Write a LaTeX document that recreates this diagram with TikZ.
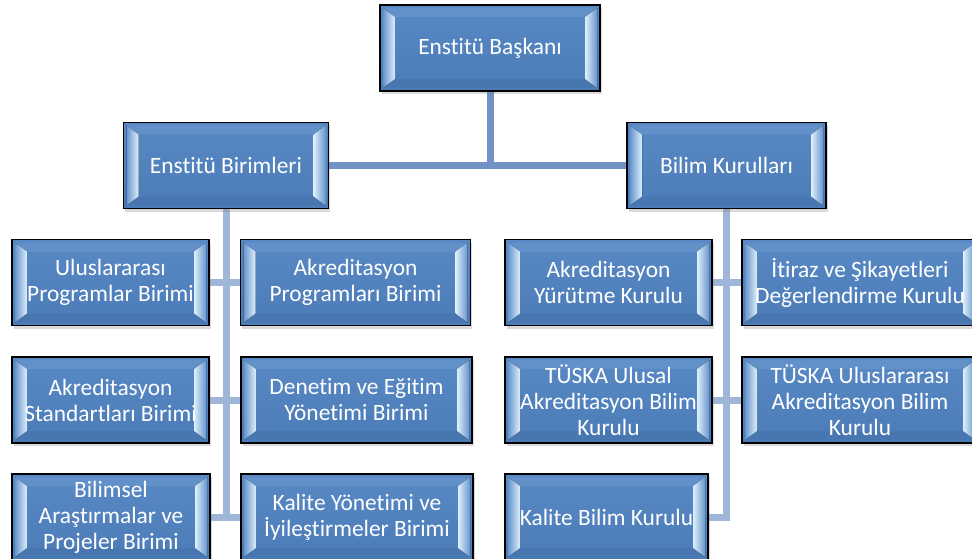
\documentclass[tikz,border=0pt]{standalone}
\usepackage{fontspec}
\setmainfont{Carlito}[RawFeature={-liga;-clig;-calt;-dlig}]
\usepackage{tikz}
\usetikzlibrary{calc}
\usetikzlibrary{shadows}
\usetikzlibrary{backgrounds}

\definecolor{boxtop}{RGB}{88,137,196}
\definecolor{boxbot}{RGB}{76,124,184}
\definecolor{bandtop}{RGB}{98,145,202}
\definecolor{bandbot}{RGB}{72,118,176}
\definecolor{bevellight}{RGB}{222,240,253}
\definecolor{bevelmid}{RGB}{104,149,204}
\definecolor{linkdark}{RGB}{112,146,196}
\definecolor{linklight}{RGB}{160,182,216}

\tikzset{
    unit/.style={draw=black, line width=1.5pt, top color=boxtop, bottom color=boxbot,
        minimum height=86pt, inner sep=0pt, align=center, text=white,
        font=\fontsize{23.4}{26}\selectfont,
        drop shadow={opacity=0.3, shadow xshift=1.5pt, shadow yshift=-3pt},
        path picture={
            \coordinate (pnw) at (path picture bounding box.north west);
            \coordinate (pne) at (path picture bounding box.north east);
            \coordinate (psw) at (path picture bounding box.south west);
            \coordinate (pse) at (path picture bounding box.south east);
            % top and bottom bands
            \fill[bandtop] ($(pnw)+(3pt,-3pt)$) -- ($(pne)+(-3pt,-3pt)$)
                -- ($(pne)+(-15pt,-12pt)$) -- ($(pnw)+(15pt,-12pt)$) -- cycle;
            \fill[bandbot] ($(psw)+(3pt,3pt)$) -- ($(pse)+(-3pt,3pt)$)
                -- ($(pse)+(-15pt,12pt)$) -- ($(psw)+(15pt,12pt)$) -- cycle;
            % left and right bevels
            \fill[left color=bevelmid, right color=bevellight]
                ($(pnw)+(3pt,-3pt)$) -- ($(pnw)+(15pt,-12pt)$)
                -- ($(psw)+(15pt,12pt)$) -- ($(psw)+(3pt,3pt)$) -- cycle;
            \fill[left color=bevellight, right color=bevelmid]
                ($(pne)+(-3pt,-3pt)$) -- ($(pne)+(-15pt,-12pt)$)
                -- ($(pse)+(-15pt,12pt)$) -- ($(pse)+(-3pt,3pt)$) -- cycle;
        }},
    toplink/.style={draw=linkdark, line width=7pt},
    sublink/.style={draw=linklight, line width=7pt}
}

\begin{document}
\begin{tikzpicture}[x=1pt, y=-1pt]
    \useasboundingbox (0,0) rectangle (972,559);
    \clip (0,0) rectangle (972,559);

    % Draw the head and the two main branches
    \node[unit, minimum width=220pt] (head) at (490,48) {Enstitü Başkanı};
    \node[unit, minimum width=205pt] (units) at (226,165.5) {Enstitü Birimleri};
    \node[unit, minimum width=199pt] (boards) at (726.5,165.5) {Bilim Kurulları};

    % Draw the units on the left
    \node[unit, minimum width=197pt] (intl) at (110.5,282.5) {Uluslararası\\Programlar Birimi};
    \node[unit, minimum width=230pt] (accprog) at (355.5,282.5) {Akreditasyon\\Programları Birimi};
    \node[unit, minimum width=197pt] (stand) at (110.5,400) {Akreditasyon\\Standartları Birimi};
    \node[unit, minimum width=231pt] (audit) at (356.5,400) {Denetim ve Eğitim\\Yönetimi Birimi};
    \node[unit, minimum width=198pt] (research) at (111,517) {Bilimsel\\Araştırmalar ve\\Projeler Birimi};
    \node[unit, minimum width=232pt] (quality) at (357,517) {Kalite Yönetimi ve\\İyileştirmeler Birimi};

    % Draw the boards on the right
    \node[unit, minimum width=207pt] (exec) at (608.5,282.5) {Akreditasyon\\Yürütme Kurulu};
    \node[unit, minimum width=236pt] (appeal) at (860,282.5) {İtiraz ve Şikayetleri\\Değerlendirme Kurulu};
    \node[unit, minimum width=207pt] (natl) at (608.5,400) {TÜSKA Ulusal\\Akreditasyon Bilim\\Kurulu};
    \node[unit, minimum width=236pt] (intlb) at (860,400) {TÜSKA Uluslararası\\Akreditasyon Bilim\\Kurulu};
    \node[unit, minimum width=203pt] (qboard) at (606.5,517) {Kalite Bilim Kurulu};

    % Finally the connectors, behind the boxes
    \begin{scope}[on background layer]
        \draw[toplink, line cap=rect] (head.south) -- (head.south |- units.east);
        \draw[toplink] (units.east) -- (boards.west);

        \draw[sublink, line cap=rect] (units.south) -- (units.south |- research.east);
        \draw[sublink] (intl.east) -- (accprog.west);
        \draw[sublink] (stand.east) -- (audit.west);
        \draw[sublink] (research.east) -- (quality.west);

        \draw[sublink, line cap=rect] (boards.south) -- (boards.south |- qboard.east);
        \draw[sublink] (exec.east) -- (appeal.west);
        \draw[sublink] (natl.east) -- (intlb.west);
        \draw[sublink] (qboard.east) -- (boards.south |- qboard.east);
    \end{scope}
\end{tikzpicture}
\end{document}
